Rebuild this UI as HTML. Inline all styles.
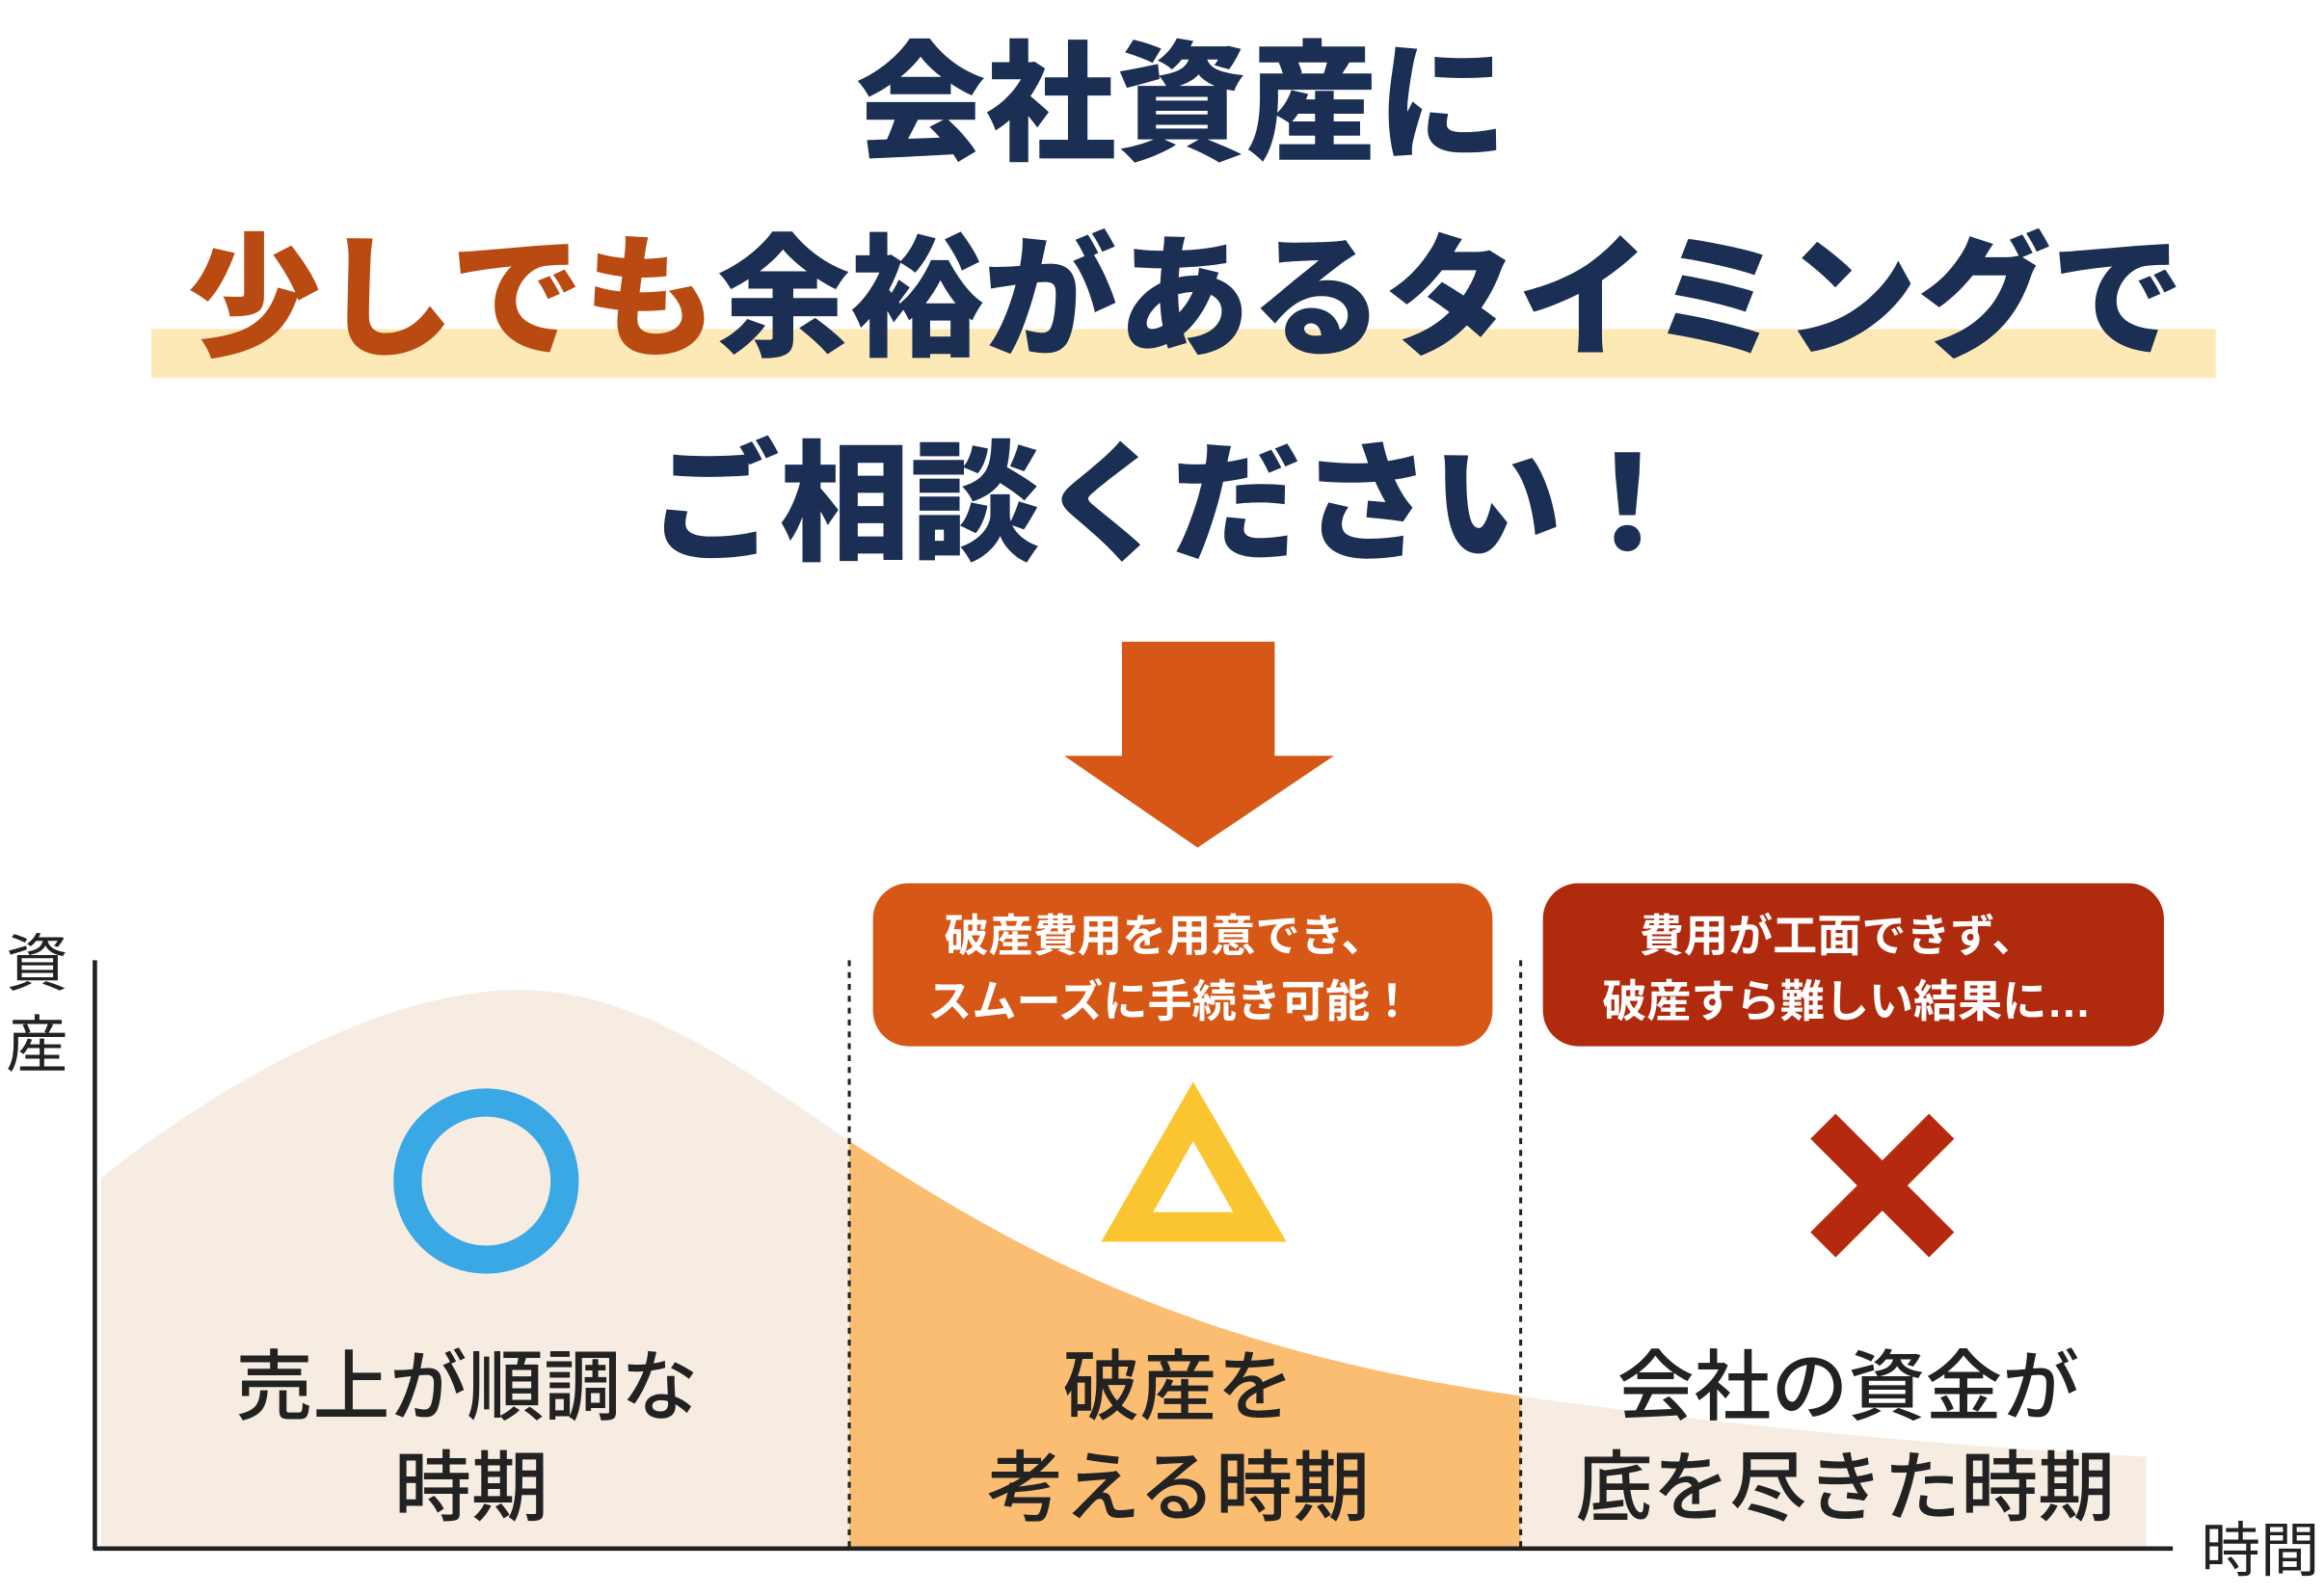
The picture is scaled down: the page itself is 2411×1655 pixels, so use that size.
<!DOCTYPE html>
<html><head><meta charset="utf-8"><style>
html,body{margin:0;padding:0;background:#fff;}
svg{display:block;}
text{font-family:"Liberation Sans","Noto Sans CJK JP",sans-serif;}
</style></head><body>
<svg width="2411" height="1655" viewBox="0 0 1568 1076.3" xmlns="http://www.w3.org/2000/svg">
<defs>
<clipPath id="mid"><rect x="573" y="600" width="453" height="446"/></clipPath>
</defs>
<text x="797" y="101" text-anchor="middle" font-size="88" font-weight="900" fill="#1b2f55">会社資産に</text>
<rect x="102" y="222" width="1393" height="33" fill="#fde9b5"/>
<text x="800" y="233" text-anchor="middle" font-size="90" font-weight="900" fill="#1b2f55"><tspan fill="#b84a12">少しでも</tspan>余裕があるタイミングで</text>
<text x="790" y="371" text-anchor="middle" font-size="88" font-weight="900" fill="#1b2f55">ご相談ください！</text>
<polygon points="757,433 860,433 860,510 900,510 808,572 718,510 757,510" fill="#d65716"/>
<rect x="589" y="596" width="418" height="110" rx="24" fill="#d65716"/>
<text x="786" y="642" text-anchor="middle" font-size="30" font-weight="700" fill="#fff">破産費用を用意でき、</text>
<text x="790" y="686" text-anchor="middle" font-size="30" font-weight="700" fill="#fff">スムーズに手続き可能！</text>
<rect x="1041" y="596" width="419" height="110" rx="24" fill="#b02a0e"/>
<text x="1240" y="642" text-anchor="middle" font-size="30" font-weight="700" fill="#fff">費用が工面できず、</text>
<text x="1246" y="686" text-anchor="middle" font-size="30" font-weight="700" fill="#fff">破産すら難しい結果に…</text>
<path d="M68,795 C150,730 260,668 350,668 C430,668 500,720 573,770 C680,840 800,910 1026,942 C1150,960 1300,975 1448,983 L1448,1045 L68,1045 Z" fill="#f7ece1"/>
<path d="M68,795 C150,730 260,668 350,668 C430,668 500,720 573,770 C680,840 800,910 1026,942 C1150,960 1300,975 1448,983 L1448,1045 L68,1045 Z" fill="#fbbd72" clip-path="url(#mid)"/>
<line x1="573" y1="648" x2="573" y2="1045" stroke="#222" stroke-width="2" stroke-dasharray="4,4"/>
<line x1="1026" y1="648" x2="1026" y2="1045" stroke="#222" stroke-width="2" stroke-dasharray="4,4"/>
<line x1="64" y1="648" x2="64" y2="1046" stroke="#222" stroke-width="3"/>
<line x1="63" y1="1045" x2="1466" y2="1045" stroke="#222" stroke-width="3"/>
<text x="25" y="665" text-anchor="middle" font-size="42" fill="#222">資</text>
<text x="25" y="720" text-anchor="middle" font-size="42" fill="#222">産</text>
<text x="1525" y="1060" text-anchor="middle" font-size="40" fill="#222">時間</text>
<circle cx="328" cy="797" r="53" fill="none" stroke="#3aa8e4" stroke-width="19"/>
<polygon points="805,730 743,838 868,838" fill="#fbc531"/>
<polygon points="805,770 778,818 832,818" fill="#fff"/>
<g stroke="#b52a0e" stroke-width="24"><line x1="1230" y1="760" x2="1310" y2="840"/><line x1="1310" y1="760" x2="1230" y2="840"/></g>
<g font-size="52" fill="#222" text-anchor="middle" font-weight="500">
<text x="315" y="954">売上が順調な</text>
<text x="318" y="1022">時期</text>
<text x="795" y="954">破産を</text>
<text x="795" y="1022">考える時期</text>
<text x="1247" y="954">会社の資金が</text>
<text x="1245" y="1022">底を尽きた時期</text>
</g>
</svg>
</body></html>
